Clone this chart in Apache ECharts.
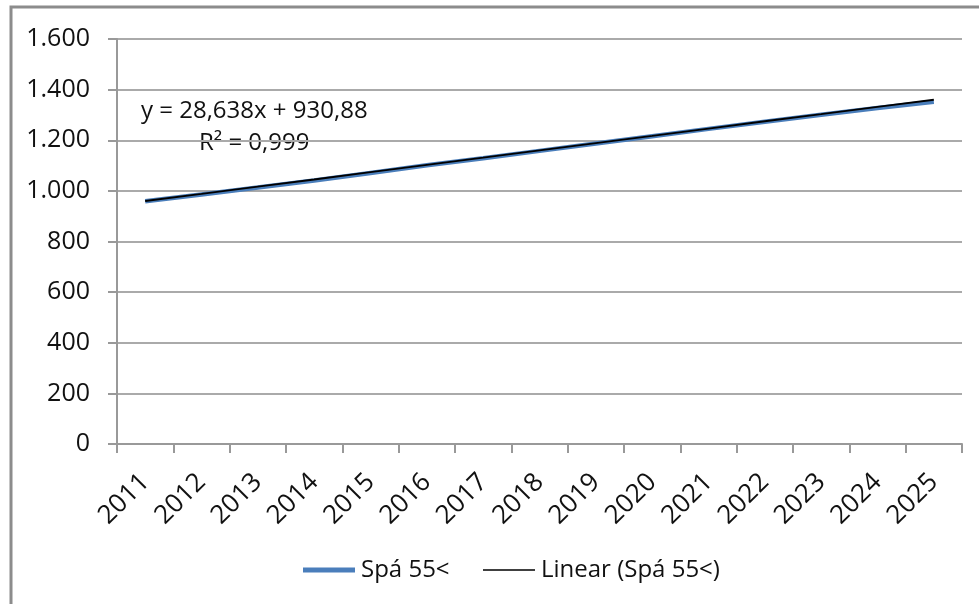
<!DOCTYPE html>
<html>
<head>
<meta charset="utf-8">
<script src="https://cdn.jsdelivr.net/npm/echarts@6/dist/echarts.min.js"></script>
<style>
  html, body { margin: 0; padding: 0; background: #fff; }
  #main { width: 979px; height: 604px; }
</style>
</head>
<body>
<div id="main"></div>
<script>
/* 数据 */
const years = ['2011', '2012', '2013', '2014', '2015', '2016', '2017', '2018',
    '2019', '2020', '2021', '2022', '2023', '2024', '2025'];
const spaData = [959, 986, 1013, 1041, 1071, 1101, 1129, 1158, 1187, 1216, 1245, 1273, 1301, 1327, 1352];
const trendData = [960, 988, 1017, 1045, 1074, 1103, 1131, 1160, 1189, 1217, 1246, 1275, 1303, 1332, 1360];
const yTickLabels = ['0', '200', '400', '600', '800', '1.000', '1.200', '1.400', '1.600'];
const trendText = ['y = 28,638x + 930,88', 'R² = 0,999'];

const FONT = 'Open Sans';
const BLUE = '#4a7ebb';

var chart = echarts.init(document.getElementById('main'), null, { renderer: 'canvas' });

// 图例（两个，分别控制线宽）
function legendFor(name, left, height, color) {
    return {
        left: left,
        top: 553,
        icon: 'rect',
        itemWidth: 52,
        itemHeight: height,
        textStyle: { fontSize: 24, color: '#111', fontFamily: FONT, padding: [0, 0, 0, 1] },
        itemStyle: { color: color, borderWidth: 0 },
        data: [name]
    };
}

var option = {
    backgroundColor: '#fff',
    animation: false,
    textStyle: { fontFamily: FONT },
    grid: {
        left: 117,
        right: 17,
        top: 39,
        bottom: 160
    },
    xAxis: {
        type: 'category',
        data: years,
        boundaryGap: true,
        axisLine: { lineStyle: { color: '#999', width: 2 } },
        axisTick: { show: true, length: 9, lineStyle: { color: '#999', width: 2 } },
        axisLabel: {
            rotate: 45,
            margin: 34,
            color: '#111',
            fontSize: 26,
            fontFamily: FONT
        },
        splitLine: { show: false }
    },
    yAxis: {
        type: 'value',
        min: 0,
        max: 1600,
        interval: 200,
        axisLine: { show: true, lineStyle: { color: '#999', width: 2 } },
        axisTick: { show: true, length: 9, lineStyle: { color: '#999', width: 2 } },
        axisLabel: {
            margin: 27,
            color: '#111',
            fontSize: 25,
            fontFamily: FONT,
            formatter: function (v) { return yTickLabels[Math.round(v / 200)]; }
        },
        splitLine: { lineStyle: { color: '#aaa', width: 2 } }
    },
    legend: [
        legendFor('Spá 55<', 298, 5, BLUE),
        legendFor('Linear (Spá 55<)', 478, 1.6, '#000')
    ],
    series: [
        {
            name: 'Spá 55<',
            type: 'line',
            symbol: 'none',
            data: spaData,
            itemStyle: { color: BLUE },
            lineStyle: { color: BLUE, width: 4.5 },
            z: 2
        },
        {
            name: 'Linear (Spá 55<)',
            type: 'line',
            symbol: 'none',
            data: trendData,
            itemStyle: { color: '#000' },
            lineStyle: { color: '#000', width: 1.8 },
            z: 3
        }
    ],
    graphic: [
        {
            type: 'rect',
            shape: { x: 11, y: 7, width: 1000, height: 700 },
            style: { fill: 'none', stroke: '#8c8c8c', lineWidth: 3 },
            silent: true
        },
        {
            type: 'text',
            left: 141,
            top: 99,
            style: { text: trendText[0], fontSize: 24, fontFamily: FONT, fill: '#111' }
        },
        {
            type: 'text',
            left: 199,
            top: 131,
            style: { text: trendText[1], fontSize: 24, fontFamily: FONT, fill: '#111' }
        }
    ]
};
chart.setOption(option);
</script>
</body>
</html>
